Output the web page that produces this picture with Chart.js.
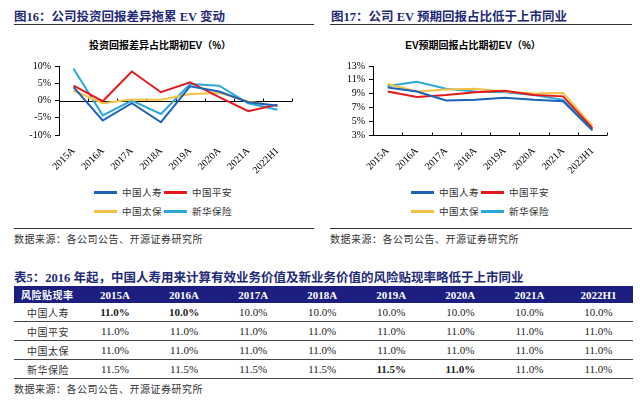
<!DOCTYPE html>
<html>
<head>
<meta charset="utf-8">
<script src="https://cdn.jsdelivr.net/npm/chart.js@4"></script>
<style>
  body { margin: 0; background: #fff; width: 640px; height: 401px; position: relative; overflow: hidden;
         font-family: "Liberation Serif", "Noto Sans CJK SC", serif; }
  .abs { position: absolute; white-space: nowrap; }
  .fig-title { font-size: 12.5px; font-weight: bold; color: #1f2a78; font-family: "Liberation Serif", "Noto Sans CJK SC"; }
  .rule { position: absolute; height: 0; }
  .sub-title { font-size: 10px; font-weight: bold; color: #000; transform: translate(-50%, -50%); font-family: "Liberation Sans", "Noto Sans CJK SC"; }
  .source { font-size: 10px; color: #333; letter-spacing: 0.5px; font-family: "Noto Sans CJK SC"; }
  .legend-item { position: absolute; font-size: 9.5px; color: #333; font-family: "Noto Sans CJK SC"; letter-spacing: 0.5px; }
  .legend-item i { position: absolute; height: 2.5px; }
  .chart-box { position: absolute; width: 300px; height: 130px; }
  table { position: absolute; left: 14px; top: 286px; width: 619px; border-collapse: collapse; table-layout: fixed; }
  th { background: #1c1f80; color: #fff; height: 17px; padding: 0; font-size: 11px; font-weight: bold; }
  td { height: 18px; padding: 0; text-align: center; font-size: 11px; color: #222; border-bottom: 1px solid #444; }
  tr:last-child td { border-bottom: 1.5px solid #444; }
  .cn { font-family: "Noto Sans CJK SC"; font-size: 10px; text-align: left; color: #333; letter-spacing: 0.5px; }
</style>
</head>
<body>

<div class="abs fig-title" style="left:14px; top:6px;">图16：公司投资回报差异拖累 EV 变动</div>
<div class="rule" style="left:14px; top:24px; width:300px; border-top:1.5px solid #333;"></div>
<div class="abs sub-title" style="left:160px; top:44px;">投资回报差异占比期初EV（%）</div>
<div class="chart-box" style="left:14px; top:50px;"><canvas id="leftChart"></canvas></div>
<div id="leftLegend"></div>
<div class="rule" style="left:14px; top:228px; width:300px; border-top:1px solid #333;"></div>
<div class="abs source" style="left:14px; top:231px;">数据来源：各公司公告、开源证券研究所</div>

<div class="abs fig-title" style="left:331px; top:6px;">图17：公司 EV 预期回报占比低于上市同业</div>
<div class="rule" style="left:330px; top:24px; width:302px; border-top:1.5px solid #333;"></div>
<div class="abs sub-title" style="left:473px; top:44px;">EV预期回报占比期初EV（%）</div>
<div class="chart-box" style="left:330px; top:50px;"><canvas id="rightChart"></canvas></div>
<div id="rightLegend"></div>
<div class="rule" style="left:330px; top:228px; width:302px; border-top:1px solid #333;"></div>
<div class="abs source" style="left:330px; top:231px;">数据来源：各公司公告、开源证券研究所</div>

<div class="abs fig-title" style="left:14px; top:267px;">表5：2016 年起，中国人寿用来计算有效业务价值及新业务价值的风险贴现率略低于上市同业</div>
<table id="rateTable"></table>
<div class="abs source" style="left:14px; top:381px;">数据来源：各公司公告、开源证券研究所</div>

<script>
// categories and series
const years = ['2015A', '2016A', '2017A', '2018A', '2019A', '2020A', '2021A', '2022H1'];
const companies = ['中国人寿', '中国平安', '中国太保', '新华保险'];
const colors = ['#1c62b8', '#e5191c', '#f3c143', '#2ba7dc'];

// 投资回报差异占比期初EV (%)
const invLife = [3.9, -5.8, -0.8, -6.3, 4.1, 2.6, -0.5, -1.5];
const invPingan = [4.3, -0.2, 8.4, 2.4, 5.3, 1.0, -3.1, -1.2];
const invCpic = [2.9, -0.8, 0.3, 0.2, 1.9, 2.2, -0.3, -1.6];
const invNci = [9.2, -4.3, 0.0, -3.9, 4.8, 4.3, -0.8, -2.7];

// EV预期回报占比期初EV (%)
const expLife = [9.9, 9.3, 8.0, 8.1, 8.4, 8.1, 7.9, 3.7];
const expPingan = [9.3, 8.5, 8.8, 9.2, 9.4, 8.8, 8.6, 4.0];
const expCpic = [10.4, 9.3, 9.6, 9.7, 9.3, 9.0, 9.1, 4.3];
const expNci = [10.1, 10.7, 9.7, 9.3, 9.2, 8.8, 8.1, 3.8];

// 风险贴现率 table
const rateLife = ['11.0%', '10.0%', '10.0%', '10.0%', '10.0%', '10.0%', '10.0%', '10.0%'];
const ratePingan = ['11.0%', '11.0%', '11.0%', '11.0%', '11.0%', '11.0%', '11.0%', '11.0%'];
const rateCpic = ['11.0%', '11.0%', '11.0%', '11.0%', '11.0%', '11.0%', '11.0%', '11.0%'];
const rateNci = ['11.5%', '11.5%', '11.5%', '11.5%', '11.5%', '11.0%', '11.0%', '11.0%'];
const boldCells = [[0, 0], [0, 1], [3, 4], [3, 5]];

Chart.defaults.font.family = '"Liberation Serif", serif';
Chart.defaults.font.size = 10;
Chart.defaults.color = '#000';

// draws the category axis line at a given value, ticks between categories
const baseAxis = {
    id: 'baseAxis',
    beforeDatasetsDraw(chart, args, opts) {
        const { ctx, chartArea, scales } = chart;
        const y = Math.round(scales.y.getPixelForValue(opts.value)) + 0.5;
        const step = scales.x.getPixelForValue(1) - scales.x.getPixelForValue(0);
        ctx.save();
        ctx.strokeStyle = '#000';
        ctx.lineWidth = 1;
        ctx.beginPath();
        ctx.moveTo(chartArea.left, y);
        ctx.lineTo(chartArea.right, y);
        for (let i = 0; i <= years.length; i++) {
            const x = Math.round(scales.x.getPixelForValue(0) - step / 2 + i * step) + 0.5;
            ctx.moveTo(x, y);
            ctx.lineTo(x, y - 3);
        }
        ctx.stroke();
        ctx.restore();
    }
};

function makeChart(id, series, min, max, step, baseValue, yWidth, rightPad) {
    const ctx = document.getElementById(id).getContext('2d');
    return new Chart(ctx, {
        type: 'line',
        data: {
            labels: years,
            datasets: series.map((d, i) => ({
                label: companies[i],
                data: d,
                borderColor: colors[i],
                backgroundColor: colors[i],
                borderWidth: 2,
                pointRadius: 0,
                tension: 0
            }))
        },
        options: {
            responsive: true,
            maintainAspectRatio: false,
            animation: false,
            layout: { padding: { top: 16, right: rightPad, left: 0, bottom: 0 } },
            plugins: {
                legend: { display: false },
                tooltip: { enabled: false },
                baseAxis: { value: baseValue }
            },
            scales: {
                x: {
                    offset: true,
                    grid: { display: false },
                    border: { display: false },
                    ticks: { minRotation: 45, maxRotation: 45, padding: 2, autoSkip: false },
                    afterFit(scale) { scale.height = 45; }
                },
                y: {
                    min: min,
                    max: max,
                    grid: { drawOnChartArea: false, tickLength: 4, color: '#000' },
                    border: { color: '#000' },
                    ticks: { stepSize: step, padding: 4, autoSkip: false, callback: v => v + '%' },
                    afterFit(scale) { scale.width = yWidth; }
                }
            }
        },
        plugins: [baseAxis]
    });
}

makeChart('leftChart', [invLife, invPingan, invCpic, invNci], -10, 10, 5, 0, 45, 22);
makeChart('rightChart', [expLife, expPingan, expCpic, expNci], 3, 13, 2, 3, 43, 23);

// legends
function makeLegend(id, left) {
    const box = document.getElementById(id);
    companies.forEach((name, i) => {
        const col = i % 2, row = Math.floor(i / 2);
        const x = left + col * 70, y = 185 + row * 19;
        const item = document.createElement('div');
        item.className = 'legend-item';
        item.style.left = (x + 28) + 'px';
        item.style.top = y + 'px';
        item.textContent = name;
        const line = document.createElement('i');
        line.style.left = '-28px';
        line.style.top = '6px';
        line.style.width = '23px';
        line.style.background = colors[i];
        item.appendChild(line);
        box.appendChild(item);
    });
}
makeLegend('leftLegend', 94);
makeLegend('rightLegend', 411);

// table
const table = document.getElementById('rateTable');
let html = '<colgroup><col style="width:66.5px">' + years.map(() => '<col>').join('') + '</colgroup>';
html += '<tr><th class="cn" style="color:#fff;padding-left:7px;font-weight:bold">风险贴现率</th>' +
    years.map(y => '<th>' + y + '</th>').join('') + '</tr>';
[rateLife, ratePingan, rateCpic, rateNci].forEach((row, r) => {
    html += '<tr><td class="cn" style="padding-left:13px">' + companies[r] + '</td>';
    row.forEach((v, c) => {
        const bold = boldCells.some(b => b[0] === r && b[1] === c);
        html += '<td' + (bold ? ' style="font-weight:bold"' : '') + '>' + v + '</td>';
    });
    html += '</tr>';
});
table.innerHTML = html;
</script>
</body>
</html>
